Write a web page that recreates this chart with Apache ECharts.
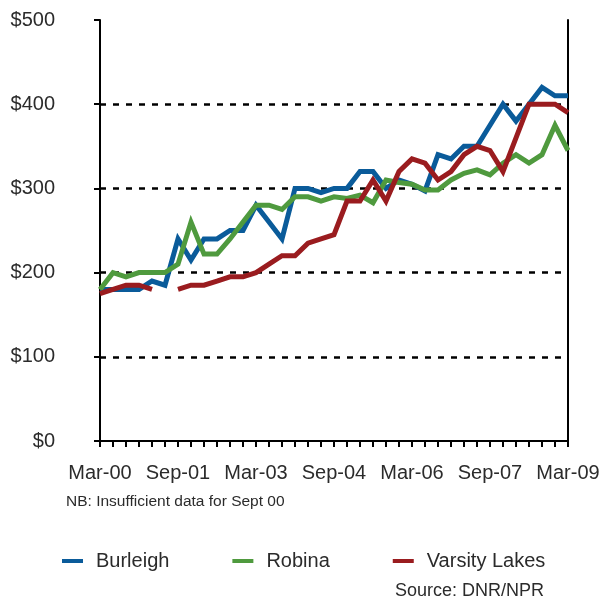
<!DOCTYPE html>
<html>
<head>
<meta charset="utf-8">
<script src="https://cdn.jsdelivr.net/npm/echarts@6/dist/echarts.min.js"></script>
<style>html,body{margin:0;padding:0;background:#fff}#c{width:600px;height:601px}</style>
</head>
<body>
<div id="c"></div>
<script>
const quarters = [];
(function(){
  const m = ['Mar','Jun','Sep','Dec'];
  for (let y = 0; y <= 9; y++) for (let q = 0; q < 4; q++) {
    if (y === 9 && q > 0) break;
    quarters.push(m[q] + '-0' + y);
  }
})();
const categories = quarters;
const burleigh = [180,180,180,180,190,185,240,215,240,240,250,250,280,260,240,300,300,295,300,300,320,320,300,310,305,297,340,335,350,350,375,400,380,400,420,410,410];
const robina = [180,200,195,200,200,200,210,260,222,222,240,260,280,280,275,290,290,285,290,288,292,283,310,307,305,298,298,310,318,322,316,330,340,330,340,375,345];
const varsityLakes = [175,180,185,185,180,null,180,185,185,190,195,195,200,210,220,220,235,240,245,285,285,310,285,320,335,330,310,320,340,350,345,320,360,400,400,400,390];
const seriesNames = ['Burleigh','Robina','Varsity Lakes'];
const colors = ['#0A5B9A','#4F9A3E','#9A1C1F'];

const chart = echarts.init(document.getElementById('c'));
const font = 'Liberation Sans, Arial, sans-serif';
const txt = '#2b2b2b';
const mk = (name, data, color) => ({
  name, type: 'line', data, showSymbol: false, symbol: 'none', connectNulls: false,
  lineStyle: { width: 5, color, join: 'miter' }, itemStyle: { color }, z: 3
});
chart.setOption({
  animation: false,
  textStyle: { fontFamily: font },
  grid: { left: 100, right: 32, top: 20, bottom: 160, outerBoundsMode: 'none', containLabel: false },
  legend: {
    left: 62, top: 551, padding: 0, itemGap: 63, itemWidth: 21, itemHeight: 4, icon: 'rect',
    textStyle: { fontSize: 20, color: txt, fontFamily: font, padding: [0,0,0,8] },
    data: seriesNames
  },
  xAxis: {
    type: 'category', data: categories, boundaryGap: false,
    axisLine: { lineStyle: { color: '#000', width: 2 } },
    axisTick: { interval: 0, length: 6, lineStyle: { color: '#000', width: 2 } },
    axisLabel: { interval: 5, fontSize: 20, color: txt, margin: 22, fontFamily: font },
    splitLine: { show: false }
  },
  yAxis: [{
    type: 'value', min: 0, max: 500, interval: 100,
    axisLine: { show: true, lineStyle: { color: '#000', width: 2 } },
    axisTick: { show: true, length: 6, lineStyle: { color: '#000', width: 2 } },
    axisLabel: { fontSize: 20, color: txt, margin: 45, align: 'right', formatter: v => '$' + v, fontFamily: font },
    splitLine: { show: true, lineStyle: { color: ['rgba(0,0,0,0)','#000','#000','#000','#000','rgba(0,0,0,0)'], width: 2.5, type: [6, 7] } }
  }, {
    type: 'value', min: 0, max: 500, interval: 100, position: 'right',
    axisLine: { show: true, lineStyle: { color: '#000', width: 2 } },
    axisTick: { show: false }, axisLabel: { show: false }, splitLine: { show: false }
  }],
  graphic: [
    { type: 'text', left: 66, top: 494, style: { text: 'NB: Insufficient data for Sept 00', fontSize: 15.5, fill: txt, fontFamily: font } },
    { type: 'text', left: 395, top: 582, style: { text: 'Source: DNR/NPR', fontSize: 18, fill: txt, fontFamily: font } }
  ],
  series: [
    mk(seriesNames[0], burleigh, colors[0]),
    mk(seriesNames[1], robina, colors[1]),
    mk(seriesNames[2], varsityLakes, colors[2])
  ]
});
</script>
</body>
</html>
